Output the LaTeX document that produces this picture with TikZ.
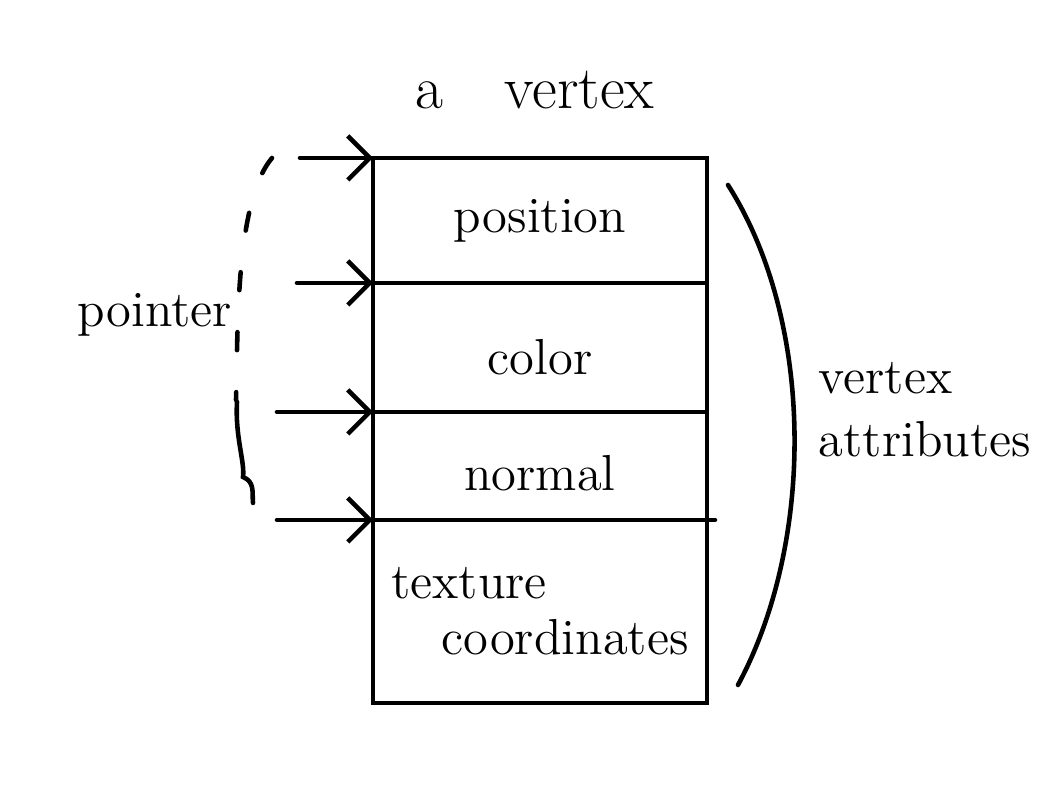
\documentclass[tikz,border=0pt]{standalone}
\usetikzlibrary{positioning,arrows.meta}
\begin{document}
\begin{tikzpicture}[line width=1.3pt, line cap=round,
    cell/.style={draw, minimum width=3.34cm, outer sep=0pt, inner sep=0pt, font=\Large, align=left},
    ptr/.style={-{Straight Barb[length=2.2mm,width=4.4mm]}}]
    \useasboundingbox (0,0) rectangle (10.5,7.92);
    \node[font=\LARGE] (title) at (5.35,7.02) {a\quad vertex};
    \node[cell, minimum height=1.25cm] (pos) at (5.40,5.715) {position};
    \node[cell, minimum height=1.29cm, text height=0.54cm, text depth=0cm, below=0pt of pos] (col) {color};
    \node[cell, minimum height=1.08cm, text height=0.5cm, text depth=0cm, below=0pt of col] (nrm) {normal};
    \node[cell, minimum height=1.83cm, below=0pt of nrm] (tex) {texture\\[-2pt]\quad coordinates};
    \draw (tex.north east) -- ++(0.08,0);
    \foreach \c/\x in {pos/3.00, col/2.97, nrm/2.77, tex/2.77}
        \draw[ptr] (\x,0 |- \c.north west) -- (\c.north west);
    % dashed part of the brace
    \draw[dashed, dash pattern=on 0.18cm off 0.42cm] (2.72,6.34) .. controls (2.35,5.9) and (2.38,4.6) .. (2.36,3.92);
    \draw (2.37,3.9) .. controls (2.35,3.55) and (2.45,3.3) .. (2.43,3.15) .. controls (2.55,3.1) and (2.52,3.0) .. (2.53,2.89);
    \node[font=\Large] (ptrlabel) at (1.55,4.77) {pointer};
    % bracket of the attributes
    \draw (7.28,6.07) .. controls (8.15,4.7) and (8.15,2.5) .. (7.38,1.07);
    \node[font=\Large, align=left] (attr) at (9.25,3.82) {vertex\\attributes};
\end{tikzpicture}
\end{document}
